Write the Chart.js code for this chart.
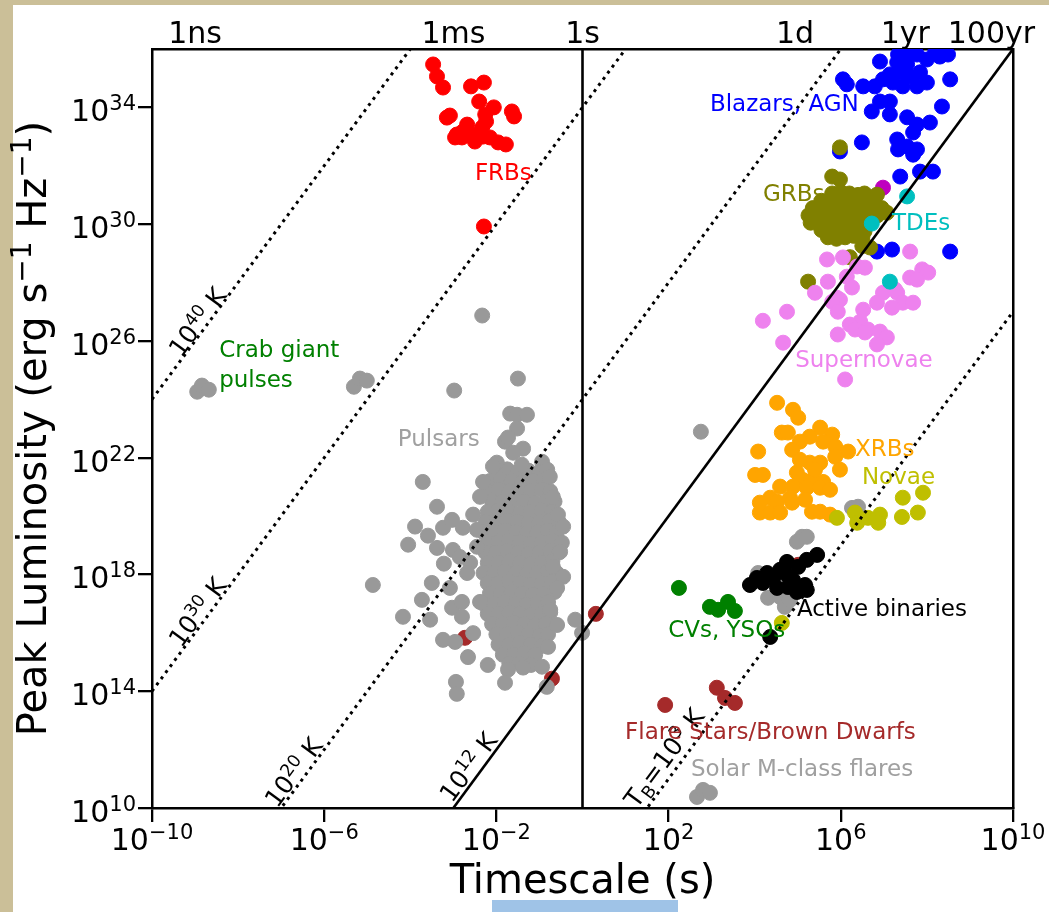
<!DOCTYPE html>
<html>
<head>
<meta charset="utf-8">
<script src="https://cdn.jsdelivr.net/npm/chart.js@4.4.1/dist/chart.umd.min.js"></script>
<style>
  html, body { margin:0; padding:0; background:#fff; }
  #page { position:relative; width:1049px; height:912px; overflow:hidden; background:#fff; }
  .band-left { position:absolute; left:0; top:0; width:13px; height:912px; background:#cbbf98; }
  .band-top { position:absolute; left:0; top:0; width:1049px; height:5px; background:#cbbf98; }
  .blue-tab { position:absolute; left:492px; top:900px; width:186px; height:12px; background:#9fc3e7; }
  #wrap { position:absolute; left:0; top:0; width:1049px; height:912px; }
</style>
</head>
<body>
<div id="page">
  <div class="band-left"></div>
  <div class="band-top"></div>
  <div class="blue-tab"></div>
  <div id="wrap"><canvas id="lumChart"></canvas></div>
</div>
<script>
// all points are [log10 timescale (s), log10 peak luminosity (erg/s/Hz)]
const frbs = [[-3.47,35.47],[-3.38,35.06],[-3.24,34.68],[-2.59,34.72],[-2.29,34.85],[-2.40,34.20],[-2.06,34.00],
  [-1.64,33.86],[-1.59,33.69],[-3.15,33.65],[-3.08,33.72],[-2.68,33.41],[-2.26,33.76],[-2.24,33.52],[-2.33,33.31],
  [-2.92,33.07],[-2.96,32.97],[-2.78,33.17],[-2.57,33.07],[-2.50,32.83],[-2.31,33.00],[-2.15,32.97],[-1.96,32.80],
  [-1.78,32.73],[-2.80,32.97],[-2.43,32.97],[-2.29,29.92]];

const blazars = [[7.33,35.81],[7.54,35.71],[7.77,35.81],[8.00,35.64],[8.30,35.74],[8.49,35.81],[8.54,34.96],
  [8.35,34.03],[8.07,33.48],[6.05,34.96],[6.14,34.79],[6.52,34.72],[6.79,34.72],[6.98,34.96],[7.14,35.13],
  [7.38,35.20],[7.61,35.06],[7.84,35.20],[8.00,34.85],[7.77,34.72],[7.44,34.72],[7.21,34.85],[7.54,35.47],
  [7.31,35.54],[6.91,34.20],[7.14,34.20],[6.72,33.86],[7.14,33.76],[7.54,33.66],[7.77,33.41],[7.68,33.14],
  [7.31,32.90],[7.33,32.56],[7.54,32.66],[7.77,32.56],[7.68,32.38],[6.49,32.80],[5.98,32.49],[7.38,31.63],
  [7.84,31.80],[8.14,31.80],[6.84,29.06],[7.19,29.13],[8.54,29.06],[7.49,35.91],[7.72,35.98],[8.19,35.88],
  [6.91,35.57]];

const magentaPts = [[6.98,31.25]];

const tdes = [[7.54,30.95],[6.72,30.02],[7.14,28.03]];

const grbs = [[5.98,32.63],[5.80,31.63],[5.98,31.53],[6.84,31.01],[6.68,29.20],[6.50,29.25],[5.24,28.03],
  [6.21,28.87],[7.07,30.39],
  [5.80,31.05],[6.00,31.10],[6.20,31.05],[6.40,31.00],[6.55,31.05],
  [5.55,30.80],[5.75,30.85],[5.95,30.80],[6.15,30.75],[6.35,30.80],[6.55,30.85],[6.75,30.80],
  [5.35,30.55],[5.55,30.50],[5.75,30.55],[5.95,30.60],[6.15,30.55],[6.35,30.50],[6.55,30.55],[6.75,30.60],[6.95,30.55],
  [5.25,30.30],[5.45,30.25],[5.65,30.30],[5.85,30.35],[6.05,30.30],[6.25,30.25],[6.45,30.30],[6.65,30.35],[6.85,30.30],
  [5.30,30.05],[5.50,30.00],[5.70,30.05],[5.90,30.10],[6.10,30.05],[6.30,30.00],[6.50,30.05],[6.70,30.10],
  [5.55,29.80],[5.75,29.75],[5.95,29.80],[6.15,29.85],[6.35,29.80],[6.55,29.75],
  [5.70,29.55],[5.90,29.50],[6.10,29.55],[6.30,29.60],[6.50,29.55]];

const supernovae = [[5.68,28.79],[6.05,28.86],[6.56,28.51],[6.38,28.55],[5.70,28.03],[6.14,28.20],[6.26,27.83],
  [7.61,29.06],[7.89,28.45],[8.03,28.34],[7.61,28.17],[7.77,28.10],[5.40,27.65],[5.91,27.48],[6.98,27.65],
  [7.31,27.65],[6.84,27.31],[7.44,27.31],[7.68,27.31],[5.98,27.41],[5.80,27.34],[4.75,27.00],[4.19,26.69],
  [4.66,25.94],[5.93,27.00],[7.26,27.76],[7.19,27.14],[6.52,27.07],[6.45,26.66],[6.21,26.56],[6.33,26.39],
  [5.93,26.22],[6.63,26.39],[6.91,26.32],[7.07,26.12],[6.84,25.88],[6.56,26.29],[6.10,24.68]];

const xrbs = [[4.52,23.88],[4.89,23.64],[5.01,23.37],[4.63,22.86],[4.77,22.86],[5.52,23.03],[5.80,22.79],
  [5.28,22.72],[5.05,22.55],[4.87,22.27],[5.59,22.55],[5.87,22.38],[6.17,22.21],[5.87,22.03],[4.08,22.21],
  [5.98,21.59],[5.28,21.83],[5.52,21.83],[4.98,21.49],[5.12,21.24],[5.35,21.24],[5.59,21.17],[4.01,21.41],
  [4.19,21.41],[4.59,21.01],[4.89,21.01],[5.21,20.97],[5.52,20.97],[5.75,20.90],[4.36,20.63],[4.82,20.63],
  [4.12,20.46],[4.52,20.49],[4.87,20.46],[4.12,20.12],[4.36,20.12],[4.59,20.12],[5.33,20.15],[5.52,20.15],
  [5.75,20.05],[5.05,21.93],[5.40,21.59],[5.17,20.56]];

const novae = [[5.91,19.94],[6.33,20.12],[6.38,19.77],[6.63,19.94],[6.91,20.05],[6.87,19.77],[7.44,20.63],
  [7.91,20.80],[7.42,19.97],[7.79,20.12],[4.63,16.34]];

const activeBinaries = [[5.45,18.67],[5.21,18.50],[5.01,18.26],[4.75,18.43],[4.59,18.16],[4.29,18.05],
  [4.05,17.88],[3.89,17.64],[4.19,17.71],[4.43,17.88],[4.75,17.98],[4.89,17.81],[4.52,17.54],[4.77,17.57],
  [5.17,17.64],[5.21,17.47],[4.98,17.40],[4.36,15.86]];

const cvsYsos = [[2.24,17.54],[2.96,16.89],[3.15,16.79],[3.38,17.06],[3.54,16.75]];

const flareStars = [[1.92,13.53],[3.12,14.12],[3.31,13.77],[3.54,13.60],[0.31,16.65],[-0.71,14.43],
  [-2.73,15.83],[5.01,18.33]];

const solarFlares = [[2.66,10.38],[2.80,10.62],[2.96,10.52]];

const crabPulses = [[-8.95,24.26],[-8.84,24.47],[-8.68,24.33],[-5.31,24.43],[-5.17,24.71],[-5.01,24.64]];

const otherGray = [[6.26,20.28],[6.40,20.32],[5.10,19.29],[4.98,19.12],[5.21,19.29],[4.31,17.20],[4.59,17.23],
  [4.70,16.89],[4.82,17.13],[4.08,18.05],[2.75,22.89]];

const pulsarsScatter = [[-2.33,26.87],[-1.50,24.71],[-2.98,24.30],[-1.68,23.51],[-1.52,23.47],[-1.29,23.47],
  [-1.52,23.00],[-1.80,22.55],[-1.73,22.69],[-1.38,22.31],[-1.61,22.17],[-1.99,21.83],[-2.08,21.70],
  [-1.41,21.76],[-0.94,21.86],[-0.82,21.59],[-0.76,21.35],[-2.31,21.17],[-3.71,21.17],[-3.38,20.32],
  [-2.38,20.66],[-0.69,20.66],[-0.57,20.05],[-0.45,19.64],[-0.48,19.09],[-0.52,18.78],[-0.69,18.27],
  [-0.45,17.92],[-0.59,17.54],[-0.75,16.79],[-0.59,16.27],[-0.80,15.52],[-0.94,14.84],[-1.38,14.81],
  [-1.73,14.74],[-3.89,19.64],[-4.05,19.02],[-3.59,19.33],[-3.24,19.60],[-3.03,19.87],[-2.78,19.60],
  [-2.54,20.05],[-2.45,19.53],[-3.38,18.91],[-3.01,18.84],[-2.85,18.60],[-3.22,18.37],[-2.61,18.40],
  [-2.68,18.05],[-2.45,18.95],[-3.50,17.71],[-3.08,17.54],[-3.73,17.13],[-3.03,16.86],[-2.80,17.06],
  [-2.38,17.06],[-4.17,16.55],[-3.54,16.45],[-2.80,16.55],[-3.24,15.76],[-2.96,15.69],[-2.54,15.99],
  [-2.66,15.17],[-2.20,14.90],[-1.80,14.29],[-2.94,14.32],[-2.92,13.91],[-0.17,16.45],[-0.01,16.00],
  [-0.83,14.15],[-4.87,17.64]];

const pulsarsCore = [
  [-2.0,21.55],[-1.75,21.6],[-1.5,21.5],[-1.25,21.55],[-1.0,21.5],
  [-2.15,21.2],[-1.9,21.25],[-1.65,21.2],[-1.4,21.15],[-1.15,21.2],[-0.9,21.25],
  [-2.2,20.85],[-1.95,20.9],[-1.7,20.85],[-1.45,20.8],[-1.2,20.85],[-0.95,20.9],[-0.75,20.85],
  [-2.1,20.5],[-1.85,20.5],[-1.6,20.55],[-1.35,20.5],[-1.1,20.45],[-0.85,20.5],[-0.65,20.5],
  [-2.2,20.15],[-1.95,20.2],[-1.7,20.15],[-1.45,20.1],[-1.2,20.15],[-0.95,20.2],[-0.7,20.15],
  [-2.25,19.8],[-2.0,19.8],[-1.75,19.85],[-1.5,19.8],[-1.25,19.75],[-1.0,19.8],[-0.75,19.85],[-0.55,19.8],
  [-2.3,19.45],[-2.05,19.45],[-1.8,19.5],[-1.55,19.45],[-1.3,19.4],[-1.05,19.45],[-0.8,19.5],[-0.6,19.45],
  [-2.2,19.1],[-1.95,19.1],[-1.7,19.15],[-1.45,19.1],[-1.2,19.05],[-0.95,19.1],[-0.7,19.15],
  [-2.25,18.75],[-2.0,18.75],[-1.75,18.8],[-1.5,18.75],[-1.25,18.7],[-1.0,18.75],[-0.75,18.8],[-0.55,18.75],
  [-2.2,18.4],[-1.95,18.4],[-1.7,18.45],[-1.45,18.4],[-1.2,18.35],[-0.95,18.4],[-0.7,18.45],
  [-2.3,18.05],[-2.05,18.05],[-1.8,18.1],[-1.55,18.05],[-1.3,18.0],[-1.05,18.05],[-0.8,18.1],[-0.6,18.05],
  [-2.2,17.7],[-1.95,17.7],[-1.7,17.75],[-1.45,17.7],[-1.2,17.65],[-0.95,17.7],[-0.7,17.75],
  [-2.15,17.35],[-1.9,17.35],[-1.65,17.4],[-1.4,17.35],[-1.15,17.3],[-0.9,17.35],[-0.65,17.4],
  [-2.3,17.0],[-2.05,17.0],[-1.8,17.05],[-1.55,17.0],[-1.3,16.95],[-1.05,17.0],[-0.8,17.05],
  [-2.2,16.65],[-1.95,16.65],[-1.7,16.7],[-1.45,16.65],[-1.2,16.6],[-0.95,16.65],[-0.75,16.7],
  [-2.1,16.3],[-1.85,16.3],[-1.6,16.35],[-1.35,16.3],[-1.1,16.25],[-0.85,16.3],
  [-2.0,15.95],[-1.75,15.95],[-1.5,16.0],[-1.25,15.95],[-1.0,15.9],[-0.8,15.95],
  [-1.95,15.6],[-1.7,15.6],[-1.45,15.65],[-1.2,15.6],[-0.95,15.55],
  [-1.85,15.25],[-1.6,15.25],[-1.35,15.3],[-1.1,15.25],
  [-1.7,14.95],[-1.45,14.95],[-1.2,14.9]];

// axes
const xTickExps = [-10, -6, -2, 2, 6, 10];
const yTickExps = [10, 14, 18, 22, 26, 30, 34];
const topTickLabels = ['1ns', '1ms', '1s', '1d', '1yr', '100yr'];
const topTickSeconds = [1e-9, 1e-3, 1, 86400, 3.156e7, 3.156e9];
// brightness temperature lines, log10 K
const tbLinesLogK = [40, 30, 20, 12, 3];

const FONT = '"DejaVu Sans"';
const GRAY = '#999999';

const toXY = a => a.map(p => ({ x: Math.pow(10, p[0]), y: Math.pow(10, p[1]) }));

// bottom to top
const series = [
  { data: flareStars, color: '#a52a2a' },
  { data: pulsarsCore, color: GRAY },
  { data: pulsarsScatter, color: GRAY },
  { data: crabPulses, color: GRAY },
  { data: solarFlares, color: GRAY },
  { data: otherGray, color: GRAY },
  { data: blazars, color: '#0000ff' },
  { data: magentaPts, color: '#bf00bf' },
  { data: grbs, color: '#808000' },
  { data: supernovae, color: '#ee82ee' },
  { data: tdes, color: '#00bfbf' },
  { data: xrbs, color: '#ffa500' },
  { data: novae, color: '#bfbf00' },
  { data: activeBinaries, color: '#000000' },
  { data: cvsYsos, color: '#008000' },
  { data: frbs, color: '#ff0000' }
];

const datasets = series.map((s, i) => ({
  data: toXY(s.data),
  backgroundColor: s.color,
  borderColor: s.color,
  borderWidth: 1,
  pointRadius: 7.5,
  pointHoverRadius: 7.5,
  order: 100 - i
}));

// L = T_B * 1e4 * t^2 (log: 2 log t + log T + 4)
tbLinesLogK.forEach(k => {
  datasets.push({
    data: [-10, 10].map(e => ({ x: Math.pow(10, e), y: Math.pow(10, 2 * e + k + 4) })),
    showLine: true,
    borderColor: '#000',
    borderWidth: k === 12 ? 2.6 : 3,
    borderDash: k === 12 ? [] : [3, 4.6],
    pointRadius: 0,
    pointHoverRadius: 0,
    order: 0
  });
});
// 1 second
datasets.push({
  data: [{ x: 1, y: 1e10 }, { x: 1, y: 1e36 }],
  showLine: true, borderColor: '#000', borderWidth: 2.6,
  pointRadius: 0, pointHoverRadius: 0, order: 0
});

const classLabels = [
  { text: 'FRBs', color: '#ff0000', at: [-2.50, 31.70] },
  { text: 'Blazars, AGN', color: '#0000ff', at: [2.96, 34.07] },
  { text: 'GRBs', color: '#808000', at: [4.19, 31.01] },
  { text: 'TDEs', color: '#00bfbf', at: [7.19, 30.02] },
  { text: 'Supernovae', color: '#ee82ee', at: [4.94, 25.32] },
  { text: 'Crab giant', color: '#008000', at: [-8.44, 25.67] },
  { text: 'pulses', color: '#008000', at: [-8.44, 24.64] },
  { text: 'Pulsars', color: '#a0a0a0', at: [-4.29, 22.62] },
  { text: 'XRBs', color: '#ffa500', at: [6.33, 22.27] },
  { text: 'Novae', color: '#bfbf00', at: [6.49, 21.31] },
  { text: 'Active binaries', color: '#000000', at: [4.98, 16.79] },
  { text: 'CVs, YSOs', color: '#008000', at: [1.99, 16.07] },
  { text: 'Flare Stars/Brown Dwarfs', color: '#a52a2a', at: [0.99, 12.57] },
  { text: 'Solar M-class flares', color: '#a0a0a0', at: [2.52, 11.30] }
];

const tbLabels = [
  { at: [-8.95, 26.66], parts: [['10', 25, 0], ['40', 17.5, -9], [' K', 25, 0]] },
  { at: [-8.95, 16.72], parts: [['10', 25, 0], ['30', 17.5, -9], [' K', 25, 0]] },
  { at: [-6.72, 11.23], parts: [['10', 25, 0], ['20', 17.5, -9], [' K', 25, 0]] },
  { at: [-2.66, 11.41], parts: [['10', 25, 0], ['12', 17.5, -9], [' K', 25, 0]] },
  { at: [1.89, 11.72], parts: [['T', 25, 0], ['B', 17.5, 5], ['=10', 25, 0], ['3', 17.5, -9], [' K', 25, 0]] }
];

function drawParts(ctx, parts, x, y, align) {
  let w = 0;
  const ms = parts.map(p => { ctx.font = p[1] + 'px ' + FONT; const m = ctx.measureText(p[0]).width; w += m; return m; });
  let cx = align === 'right' ? x - w : align === 'center' ? x - w / 2 : x;
  parts.forEach((p, i) => {
    ctx.font = p[1] + 'px ' + FONT;
    ctx.fillText(p[0], cx, y + p[2]);
    cx += ms[i];
  });
}

const expStr = e => (e < 0 ? '\u2212' : '') + Math.abs(e);

const textPlugin = {
  id: 'texts',
  afterDatasetsDraw(chart) {
    const ctx = chart.ctx;
    const xs = chart.scales.x, ys = chart.scales.y;
    ctx.save();
    ctx.textAlign = 'left';
    ctx.textBaseline = 'alphabetic';
    ctx.fillStyle = '#000';

    // y tick labels
    yTickExps.forEach(e => {
      const py = ys.getPixelForValue(Math.pow(10, e));
      drawParts(ctx, [['10', 30, 0], [expStr(e), 21, -11]], 136, py + 14, 'right');
    });
    // x tick labels
    xTickExps.forEach(e => {
      const px = xs.getPixelForValue(Math.pow(10, e));
      drawParts(ctx, [['10', 30, 0], [expStr(e), 21, -11]], px, 850, 'center');
    });
    // top labels
    topTickSeconds.forEach((s, i) => {
      const px = xs.getPixelForValue(s);
      drawParts(ctx, [[topTickLabels[i], 30, 0]], px, 43, 'center');
    });
    // axis titles
    drawParts(ctx, [['Timescale (s)', 40, 0]], (chart.chartArea.left + chart.chartArea.right) / 2, 893, 'center');
    ctx.save();
    ctx.translate(46, (chart.chartArea.top + chart.chartArea.bottom) / 2);
    ctx.rotate(-Math.PI / 2);
    drawParts(ctx, [['Peak Luminosity (erg s', 40, 0], ['\u22121', 28, -15], [' Hz', 40, 0], ['\u22121', 28, -15], [')', 40, 0]], 0, 0, 'center');
    ctx.restore();

    // brightness temperature labels along the lines
    const ang = Math.atan2(ys.getPixelForValue(100) - ys.getPixelForValue(1),
                           xs.getPixelForValue(10) - xs.getPixelForValue(1));
    tbLabels.forEach(l => {
      ctx.save();
      ctx.translate(xs.getPixelForValue(Math.pow(10, l.at[0])), ys.getPixelForValue(Math.pow(10, l.at[1])));
      ctx.rotate(ang);
      drawParts(ctx, l.parts, 0, 9, 'center');
      ctx.restore();
    });

    // class labels
    ctx.textBaseline = 'middle';
    classLabels.forEach(l => {
      ctx.fillStyle = l.color;
      ctx.font = '23px ' + FONT;
      ctx.fillText(l.text, xs.getPixelForValue(Math.pow(10, l.at[0])), ys.getPixelForValue(Math.pow(10, l.at[1])));
    });
    ctx.restore();
  }
};

const setTicks = exps => axis => { axis.ticks = exps.map(e => ({ value: Math.pow(10, e) })); };
const blackBorder = { display: true, color: '#000', width: 2.5 };
const tickMarks = { display: true, drawOnChartArea: false, drawTicks: true, tickLength: 14, lineWidth: 2.3, color: '#000' };

new Chart(document.getElementById('lumChart'), {
  type: 'scatter',
  data: { datasets },
  options: {
    responsive: true,
    maintainAspectRatio: false,
    animation: false,
    layout: { padding: 0 },
    plugins: { legend: { display: false }, tooltip: { enabled: false } },
    scales: {
      x: {
        type: 'logarithmic', position: 'bottom', min: 1e-10, max: 1e10,
        afterBuildTicks: setTicks(xTickExps),
        afterFit: s => { s.height = 104; },
        ticks: { display: false },
        grid: tickMarks, border: blackBorder
      },
      x2: {
        type: 'logarithmic', position: 'top', min: 1e-10, max: 1e10,
        afterFit: s => { s.height = 49; },
        ticks: { display: false },
        grid: { display: false }, border: blackBorder
      },
      y: {
        type: 'logarithmic', position: 'left', min: 1e10, max: 1e36,
        afterBuildTicks: setTicks(yTickExps),
        afterFit: s => { s.width = 152; },
        ticks: { display: false },
        grid: tickMarks, border: blackBorder
      },
      y2: {
        type: 'logarithmic', position: 'right', min: 1e10, max: 1e36,
        afterFit: s => { s.width = 36; },
        ticks: { display: false },
        grid: { display: false }, border: blackBorder
      }
    }
  },
  plugins: [textPlugin]
});
</script>
</body>
</html>
